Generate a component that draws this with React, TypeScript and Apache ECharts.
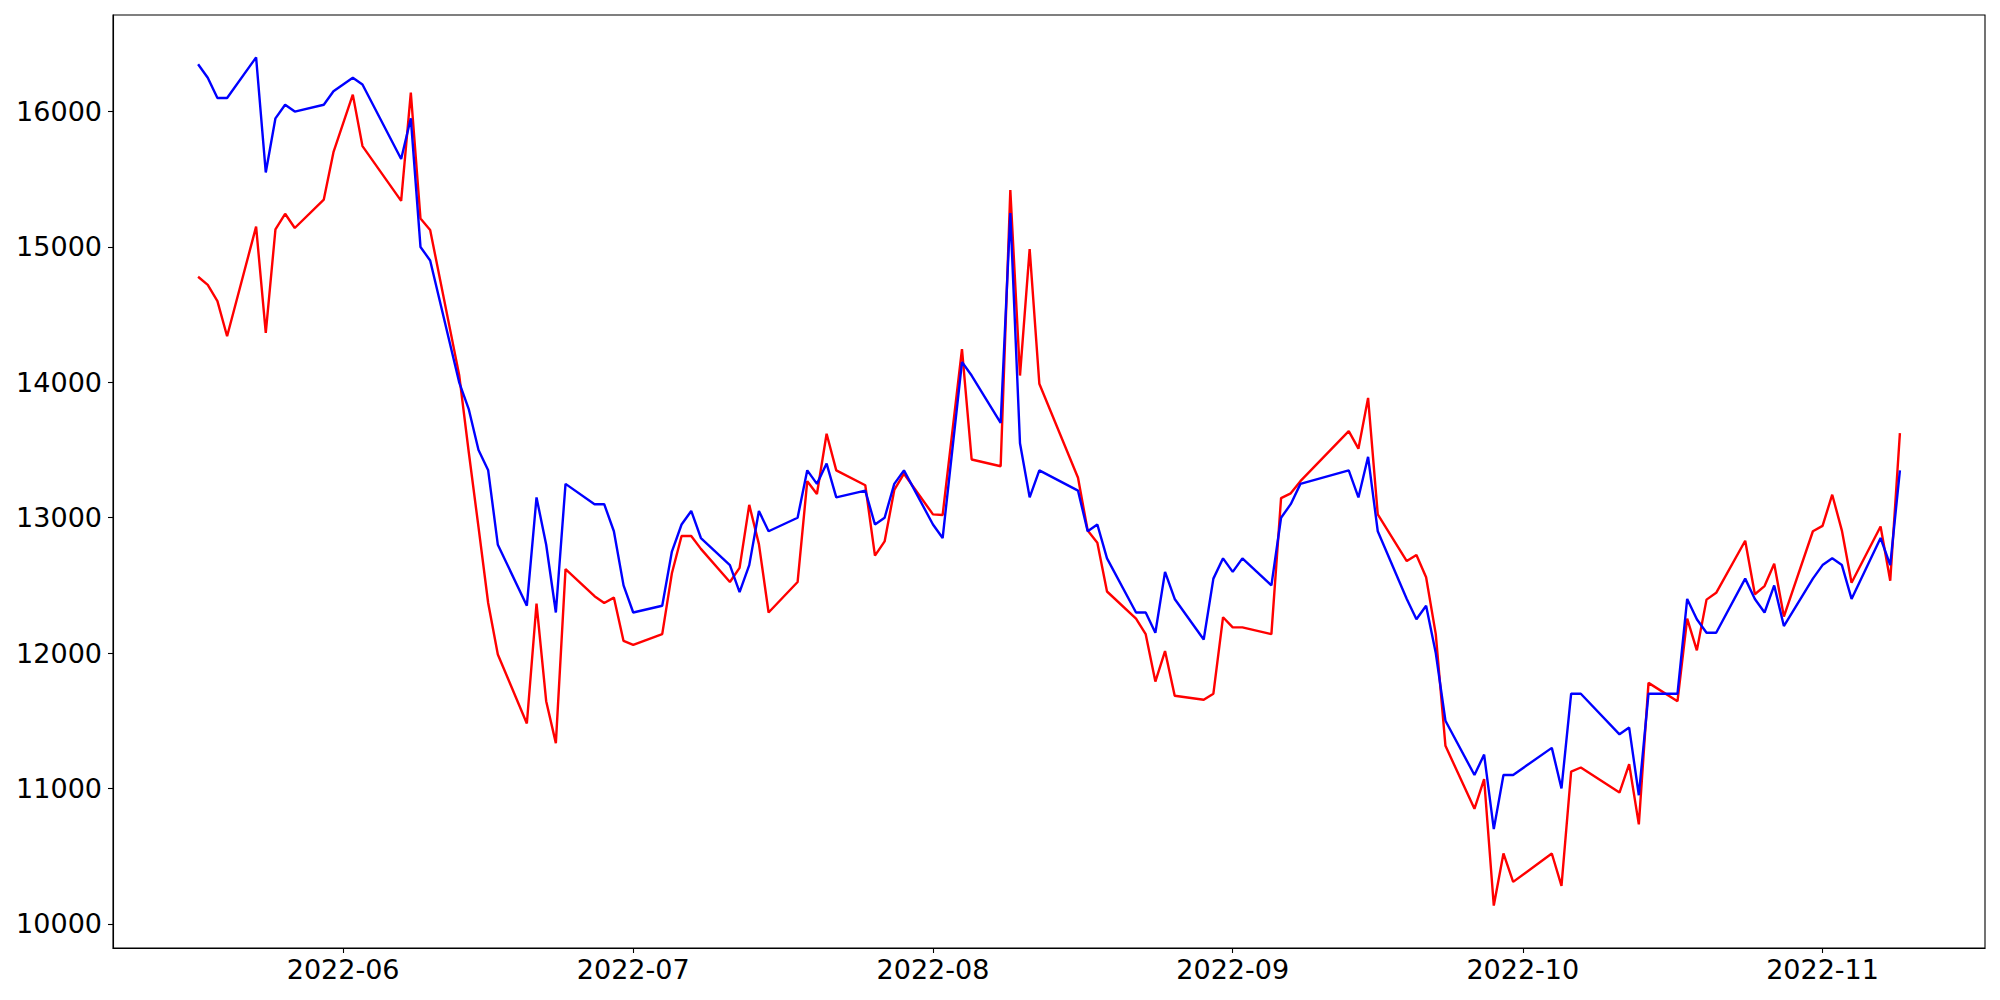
import React, { useEffect, useRef } from "react";
import * as echarts from "echarts";

const dates: string[] = [
  "2022-05-17", "2022-05-18", "2022-05-19", "2022-05-20", "2022-05-23", "2022-05-24", "2022-05-25", "2022-05-26", "2022-05-27", "2022-05-30", "2022-05-31",
  "2022-06-02", "2022-06-03", "2022-06-07", "2022-06-08", "2022-06-09", "2022-06-10", "2022-06-13", "2022-06-14", "2022-06-15", "2022-06-16", "2022-06-17",
  "2022-06-20", "2022-06-21", "2022-06-22", "2022-06-23", "2022-06-24", "2022-06-27", "2022-06-28", "2022-06-29", "2022-06-30",
  "2022-07-01", "2022-07-04", "2022-07-05", "2022-07-06", "2022-07-07", "2022-07-08", "2022-07-11", "2022-07-12", "2022-07-13", "2022-07-14", "2022-07-15",
  "2022-07-18", "2022-07-19", "2022-07-20", "2022-07-21", "2022-07-22", "2022-07-25", "2022-07-26", "2022-07-27", "2022-07-28", "2022-07-29",
  "2022-08-01", "2022-08-02", "2022-08-04", "2022-08-05", "2022-08-08", "2022-08-09", "2022-08-10", "2022-08-11", "2022-08-12", "2022-08-16",
  "2022-08-17", "2022-08-18", "2022-08-19", "2022-08-22", "2022-08-23", "2022-08-24", "2022-08-25", "2022-08-26", "2022-08-29", "2022-08-30", "2022-08-31",
  "2022-09-01", "2022-09-02", "2022-09-05", "2022-09-06", "2022-09-07", "2022-09-08", "2022-09-13", "2022-09-14", "2022-09-15", "2022-09-16",
  "2022-09-19", "2022-09-20", "2022-09-21", "2022-09-22", "2022-09-23", "2022-09-26", "2022-09-27", "2022-09-28", "2022-09-29", "2022-09-30",
  "2022-10-04", "2022-10-05", "2022-10-06", "2022-10-07", "2022-10-11", "2022-10-12", "2022-10-13", "2022-10-14", "2022-10-17", "2022-10-18",
  "2022-10-19", "2022-10-20", "2022-10-21", "2022-10-24", "2022-10-25", "2022-10-26", "2022-10-27", "2022-10-28", "2022-10-31",
  "2022-11-01", "2022-11-02", "2022-11-03", "2022-11-04", "2022-11-07", "2022-11-08", "2022-11-09",
];

const blueValues: number[] = [
  16350, 16250, 16100, 16100, 16400, 15550, 15950, 16050, 16000, 16050, 16150,
  16250, 16200, 15650, 15950, 15000, 14900, 14000, 13800, 13500, 13350, 12800, 12350, 13150, 12800, 12300, 13250, 13100, 13100, 12900, 12500,
  12300, 12350, 12750, 12950, 13050, 12850, 12650, 12450, 12650, 13050, 12900, 13000, 13350, 13250, 13400, 13150, 13200, 12950, 13000, 13250, 13350,
  12950, 12850, 14150, 14050, 13700, 15250, 13550, 13150, 13350, 13200, 12900, 12950, 12700, 12300, 12300, 12150, 12600, 12400, 12100, 12550, 12700,
  12600, 12700, 12500, 13000, 13100, 13250, 13350, 13150, 13450, 12900, 12400, 12250, 12350, 12000, 11500, 11100, 11250, 10700, 11100, 11100,
  11300, 11000, 11700, 11700, 11400, 11450, 10950, 11700, 11700, 12400, 12250, 12150, 12150, 12550, 12400, 12300, 12500, 12200, 12550,
  12650, 12700, 12650, 12400, 12850, 12650, 13350,
];

const redValues: number[] = [
  14780, 14720, 14600, 14340, 15150, 14365, 15130, 15245, 15140, 15350, 15700,
  16125, 15745, 15340, 16140, 15210, 15125, 14055, 13480, 12930, 12370, 11990, 11480, 12365, 11645, 11335, 12620, 12420, 12370, 12410, 12090,
  12060, 12140, 12590, 12865, 12865, 12770, 12525, 12630, 13095, 12805, 12300, 12525, 13270, 13175, 13620, 13350, 13240, 12720, 12825, 13205, 13325,
  13025, 13020, 14245, 13430, 13380, 15420, 14050, 14985, 13990, 13295, 12905, 12815, 12455, 12255, 12140, 11790, 12015, 11685, 11655, 11700, 12265,
  12190, 12190, 12140, 13145, 13180, 13270, 13640, 13510, 13885, 13025, 12680, 12725, 12560, 12140, 11315, 10850, 11070, 10135, 10520, 10310,
  10520, 10280, 11125, 11155, 10970, 11180, 10735, 11780, 11645, 12255, 12020, 12395, 12445, 12830, 12435, 12495, 12660, 12270, 12900,
  12940, 13170, 12905, 12520, 12935, 12535, 13625,
];

const xTickLabels: string[] = ["2022-06", "2022-07", "2022-08", "2022-09", "2022-10", "2022-11"];
const yTicks: number[] = [10000, 11000, 12000, 13000, 14000, 15000, 16000];

function toTs(s: string): number {
  const p = s.split("-").map(Number);
  return new Date(p[0], p[1] - 1, p[2] || 1).getTime();
}

function fmtMonth(v: number): string {
  const d = new Date(v);
  return d.getFullYear() + "-" + String(d.getMonth() + 1).padStart(2, "0");
}

export default function App() {
  const ref = useRef<HTMLDivElement>(null);
  useEffect(() => {
    if (!ref.current) return;
    const chart = echarts.init(ref.current, null, { renderer: "svg" });
    const ts = dates.map(toTs);
    const tMin = ts[0];
    const tMax = ts[ts.length - 1];
    const tSpan = tMax - tMin;
    const all = blueValues.concat(redValues);
    const vMin = Math.min(...all);
    const vMax = Math.max(...all);
    const vSpan = vMax - vMin;
    const xTickTs = xTickLabels.map(toTs);
    const font = "DejaVu Sans";

    chart.setOption({
      animation: false,
      backgroundColor: "#ffffff",
      grid: {
        left: 113,
        top: 15,
        right: 15,
        bottom: 52,
        show: true,
        borderColor: "#000000",
        borderWidth: 1.1,
        backgroundColor: "transparent",
        containLabel: false,
      },
      xAxis: {
        type: "value",
        min: tMin - 0.05 * tSpan,
        max: tMax + 0.05 * tSpan,
        splitLine: { show: false },
        axisLine: { show: true, lineStyle: { color: "#000000", width: 1.1 } },
        axisTick: {
          show: true,
          length: 5,
          inside: false,
          lineStyle: { color: "#000000", width: 1.1 },
          customValues: xTickTs,
        },
        axisLabel: {
          show: true,
          customValues: xTickTs,
          formatter: (v: number) => fmtMonth(v),
          fontFamily: font,
          fontSize: 27,
          color: "#000000",
          margin: 8,
          hideOverlap: false,
        },
      },
      yAxis: {
        type: "value",
        min: vMin - 0.05 * vSpan,
        max: vMax + 0.05 * vSpan,
        splitLine: { show: false },
        axisLine: { show: true, lineStyle: { color: "#000000", width: 1.1 } },
        axisTick: {
          show: true,
          length: 5,
          inside: false,
          lineStyle: { color: "#000000", width: 1.1 },
          customValues: yTicks,
        },
        axisLabel: {
          show: true,
          customValues: yTicks,
          formatter: (v: number) => String(v),
          fontFamily: font,
          fontSize: 27,
          color: "#000000",
          margin: 11,
        },
      },
      series: [
        {
          name: "red",
          type: "line",
          data: ts.map((t, i) => [t, redValues[i]]),
          showSymbol: false,
          symbol: "none",
          lineStyle: { color: "#ff0000", width: 2.4 },
          itemStyle: { color: "#ff0000" },
          z: 2,
        },
        {
          name: "blue",
          type: "line",
          data: ts.map((t, i) => [t, blueValues[i]]),
          showSymbol: false,
          symbol: "none",
          lineStyle: { color: "#0000ff", width: 2.4 },
          itemStyle: { color: "#0000ff" },
          z: 3,
        },
      ],
    });
    return () => chart.dispose();
  }, []);
  return (
    <div
      ref={ref}
      style={{ position: "fixed", left: 0, top: 0, width: 2000, height: 1000, background: "#ffffff" }}
    />
  );
}
